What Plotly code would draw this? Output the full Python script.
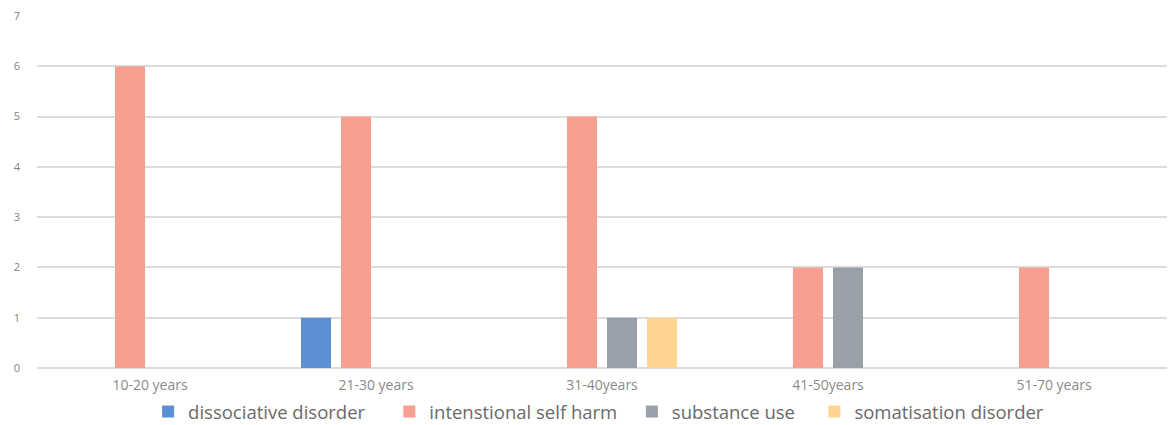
import plotly.graph_objects as go

categories = ["10-20 years", "21-30 years", "31-40years", "41-50years", "51-70 years"]
series_names = ["dissociative disorder", "intenstional self harm", "substance use", "somatisation disorder"]
dissociative = [0, 1, 0, 0, 0]
self_harm = [6, 5, 5, 2, 2]
substance = [0, 0, 1, 2, 0]
somatisation = [0, 0, 1, 0, 0]
colors = ["#5b8fd2", "#f7a090", "#9aa0aa", "#ffd590"]
y_ticks = [0, 1, 2, 3, 4, 5, 6, 7]
legend_pad = [4, 2, 3, 0]

fig = go.Figure()
for name, vals, col, pad in zip(series_names, [dissociative, self_harm, substance, somatisation], colors, legend_pad):
    fig.add_trace(go.Bar(x=categories, y=vals, name=name + "\u00a0" * pad,
                         marker_color=col, marker_line_width=0))

fig.update_layout(
    width=1171, height=425,
    margin=dict(l=37, r=4, t=16, b=57),
    paper_bgcolor="white", plot_bgcolor="white",
    barmode="group", bargap=0.292, bargroupgap=0.25,
    font=dict(family="Open Sans, Liberation Sans, sans-serif", color="#595959"),
    legend=dict(orientation="h", x=0.497, xanchor="center", xref="paper",
                y=13 / 425, yanchor="middle", yref="container", bgcolor="rgba(0,0,0,0)",
                font=dict(size=18.5, color="#6a6a6a"), itemwidth=30, traceorder="normal"),
    showlegend=True,
)
fig.update_xaxes(showgrid=False, showline=False, ticks="", tickfont=dict(size=14, color="#8a8a8a"),
                 zeroline=False, ticklabelstandoff=7, automargin=False)
fig.update_yaxes(range=[0, 7], tickvals=y_ticks, showgrid=True, gridcolor="#dcdcdc", gridwidth=1.5,
                 zeroline=True, zerolinecolor="#dcdcdc", zerolinewidth=1.5, showline=False,
                 tickfont=dict(size=11, color="#7f7f7f"), ticklabelstandoff=16, automargin=False)

fig.write_html("out.html")
